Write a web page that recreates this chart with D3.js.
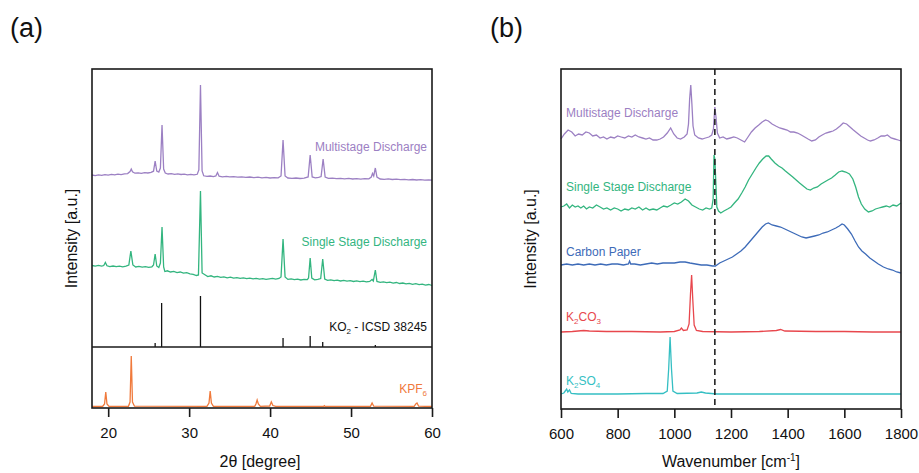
<!DOCTYPE html>
<html>
<head>
<meta charset="utf-8">
<script src="https://cdn.jsdelivr.net/npm/d3@7"></script>
<style>
  body { margin: 0; background: #fff; }
  svg { font-family: "Liberation Sans", Arial, sans-serif; }
</style>
</head>
<body>
<div id="chart"></div>
<script>
var width = 919;
var height = 473;

// ---- panel (a) : XRD, 2theta [degree] vs intensity (a.u.) ----
var xrdTicks = [20, 30, 40, 50, 60];

var multiXRD = [[18,172.0],[18.4,171.4],[18.8,172.1],[19.2,171.6],[19.6,172.4],[20.0,171.9],[20.4,172.6],[20.8,172.1],[21.2,172.9],[21.6,172.4],[22.0,173.1],[22.4,173.4],[22.7,175.5],[22.85,178.0],[23.0,175.2],[23.3,173.8],[23.7,174.1],[24.1,173.6],[24.5,174.3],[24.9,174.0],[25.3,174.6],[25.6,175.8],[25.8,186.0],[26.0,176.0],[26.25,175.0],[26.45,179],[26.65,222],[26.85,178],[27.05,174],[27.4,173.0],[27.8,173.4],[28.2,172.7],[28.6,173.1],[29.0,172.5],[29.4,172.8],[29.8,172.2],[30.2,172.6],[30.6,172.1],[31.0,172.7],[31.2,177],[31.4,262],[31.6,176],[31.8,171.2],[32.2,170.6],[32.6,171.0],[33.0,170.4],[33.3,171.0],[33.5,174.5],[33.7,170.8],[34.1,170.2],[34.6,170.6],[35.0,170.1],[35.5,170.4],[36.0,169.8],[36.5,170.2],[37.0,169.6],[37.5,170.0],[38.0,169.4],[38.5,169.8],[39.0,169.2],[39.5,169.6],[40.0,169.0],[40.5,169.4],[41.0,169.1],[41.35,171],[41.6,207],[41.85,171],[42.2,169.0],[42.7,168.6],[43.2,169.0],[43.7,168.5],[44.2,168.9],[44.7,170],[44.95,192],[45.2,170],[45.6,169.2],[46.0,169.6],[46.3,170.5],[46.55,188],[46.8,170],[47.2,168.6],[47.7,168.9],[48.2,168.3],[48.7,168.7],[49.2,168.2],[49.7,168.6],[50.2,168.0],[50.7,168.4],[51.2,167.9],[51.7,168.3],[52.2,168.2],[52.5,170],[52.65,173.5],[52.8,171],[53.0,179],[53.2,170],[53.6,168],[54.1,167.7],[54.6,168.1],[55.1,167.5],[55.6,167.9],[56.1,167.3],[56.6,167.7],[57.1,167.2],[57.6,167.5],[58.1,167.0],[58.6,167.4],[59.1,166.9],[59.6,167.2],[60,166.9]];

var singleXRD = [[18,81.5],[18.4,80.8],[18.8,81.6],[19.2,80.9],[19.45,81.5],[19.65,84.5],[19.85,81.2],[20.2,80.4],[20.6,81.0],[21.0,80.3],[21.4,80.9],[21.8,80.2],[22.2,80.8],[22.55,82],[22.8,96],[23.05,82],[23.4,80.0],[23.8,80.6],[24.2,79.8],[24.6,80.4],[25.0,79.6],[25.4,80.2],[25.6,82],[25.8,93],[26.0,81],[26.25,79.5],[26.45,84],[26.65,120],[26.85,80],[27.0,75.5],[27.3,76.2],[27.7,75.0],[28.1,75.6],[28.5,74.4],[28.9,75.0],[29.3,73.8],[29.7,74.3],[30.1,73.2],[30.5,72.6],[30.9,71.5],[31.15,72],[31.4,156],[31.6,74],[31.9,72.5],[32.3,70.4],[32.7,71.2],[33.1,70.0],[33.5,70.6],[33.9,69.6],[34.3,70.2],[34.7,69.2],[35.1,69.8],[35.5,68.9],[35.9,69.4],[36.3,68.6],[36.7,69.2],[37.1,68.3],[37.5,68.9],[37.9,68.1],[38.3,68.6],[38.7,67.9],[39.1,68.4],[39.5,67.7],[39.9,68.2],[40.3,68.6],[40.7,67.8],[41.1,68.5],[41.35,70],[41.6,108],[41.85,70],[42.2,67.6],[42.6,68.2],[43.0,67.3],[43.4,67.9],[43.8,67.0],[44.2,67.6],[44.6,67.4],[44.75,69],[44.95,89],[45.15,69],[45.5,67.2],[45.9,67.6],[46.25,68.5],[46.5,88],[46.75,68],[47.1,66.6],[47.5,67.2],[47.9,66.3],[48.3,66.9],[48.7,66.0],[49.1,66.6],[49.5,65.8],[49.9,66.3],[50.3,65.5],[50.7,66.1],[51.1,65.3],[51.5,65.9],[51.9,65.1],[52.3,65.6],[52.6,67.5],[52.75,66],[53.0,77],[53.2,65.5],[53.6,64.6],[54.0,65.2],[54.4,64.3],[54.8,64.9],[55.2,63.9],[55.6,64.5],[56.0,63.5],[56.4,64.0],[56.8,63.1],[57.2,63.7],[57.6,62.7],[58.0,63.3],[58.4,62.3],[58.8,62.9],[59.2,61.9],[59.6,62.5],[60,61.5]];

// KO2 reference pattern (ICSD 38245): positions and stick heights
var ko2Pos = [25.8, 26.6, 31.4, 41.6, 44.95, 46.5, 53.0];
var ko2Int = [4, 44, 51, 9, 11, 5, 2];

var kpf6XRD = [[18,1.5],[19.3,1.5],[19.55,4],[19.7,16],[19.85,4],[20.1,1.6],[22.5,1.7],[22.7,6],[22.85,52],[23.0,6],[23.25,1.8],[32.2,1.6],[32.45,5],[32.6,17],[32.75,5],[33.0,1.7],[38.1,1.6],[38.25,4],[38.4,8],[38.55,4],[38.8,1.6],[39.95,2],[40.15,6],[40.35,2.5],[40.7,1.6],[46.6,1.6],[46.7,2.3],[46.8,1.6],[52.4,1.6],[52.6,5],[52.8,1.8],[57.8,1.6],[58.0,4],[58.15,5],[58.35,1.8],[60,1.5]];

// ---- panel (b) : Raman, wavenumber [cm-1] vs intensity (a.u.) ----
var ramanTicks = [600, 800, 1000, 1200, 1400, 1600, 1800];
var markerWn = 1143;

var multiRaman = [[600,270],[612,275],[625,279],[638,277],[650,273],[662,275],[675,274],[688,277],[700,276],[712,273],[725,274],[738,271],[750,272],[762,270],[775,272],[788,271],[800,273],[812,272],[825,271],[838,273],[850,272],[862,274],[875,272],[888,271],[900,270],[912,271],[925,269],[938,269],[950,270],[962,272],[975,276],[987,281],[998,275],[1010,271],[1022,270],[1035,272],[1045,275],[1050,285],[1054,310],[1058,324],[1062,305],[1066,283],[1072,274],[1085,271],[1098,270],[1110,271],[1122,272],[1132,274],[1138,280],[1143,302],[1147,292],[1152,276],[1160,271],[1172,272],[1185,270],[1198,271],[1210,272],[1222,271],[1235,269],[1248,267],[1260,272],[1272,277],[1285,281],[1298,284],[1310,287],[1322,289],[1332,288],[1345,285],[1358,283],[1372,281],[1385,280],[1398,279],[1410,277],[1422,277],[1435,276],[1448,274],[1460,272],[1472,270],[1485,268],[1498,269],[1510,272],[1522,274],[1535,276],[1548,277],[1560,278],[1572,280],[1585,283],[1596,286],[1608,285],[1620,282],[1632,279],[1645,276],[1658,273],[1670,271],[1682,269],[1692,268],[1705,269],[1718,271],[1730,273],[1742,273],[1752,274],[1765,271],[1778,270],[1790,269],[1800,268]];

var singleRaman = [[600,202],[610,203],[620,205],[630,201],[640,204],[650,202],[660,203],[670,201],[680,203],[690,200],[700,202],[712,201],[725,204],[738,202],[750,200],[762,201],[775,199],[788,201],[800,200],[812,198],[825,200],[838,199],[850,201],[862,200],[875,202],[888,199],[900,201],[912,199],[925,200],[938,199],[950,201],[962,203],[975,202],[988,204],[1000,206],[1012,205],[1025,207],[1038,210],[1050,208],[1062,204],[1075,202],[1088,200],[1100,199],[1112,201],[1124,200],[1132,201],[1137,210],[1140,254],[1143,250],[1146,230],[1150,202],[1156,198],[1164,196],[1175,198],[1188,200],[1200,202],[1212,206],[1225,210],[1238,216],[1250,222],[1262,229],[1275,235],[1288,241],[1300,246],[1312,250],[1324,253],[1333,253],[1342,250],[1355,246],[1368,243],[1380,241],[1392,238],[1405,235],[1418,232],[1430,229],[1442,226],[1455,223],[1468,220],[1480,219],[1492,221],[1505,222],[1518,225],[1530,227],[1542,229],[1555,231],[1568,234],[1580,237],[1592,238],[1605,237],[1618,235],[1630,230],[1640,222],[1650,212],[1660,205],[1672,200],[1685,197],[1698,198],[1710,200],[1722,201],[1735,202],[1748,203],[1760,202],[1772,204],[1785,203],[1800,206]];

var carbonRaman = [[600,144],[620,145],[640,144],[660,145],[680,144],[700,145],[720,144],[740,145],[760,144],[780,145],[800,145],[820,144],[838,145],[842,148],[846,145],[860,145],[880,144],[900,145],[920,146],[940,145],[960,146],[980,146],[1000,146],[1020,147],[1038,147],[1055,146],[1075,145],[1095,144],[1115,144],[1135,143],[1145,143],[1160,146],[1175,148],[1190,150],[1205,152],[1220,155],[1235,158],[1250,162],[1265,167],[1280,172],[1295,177],[1310,182],[1322,185],[1332,186],[1345,184],[1360,183],[1375,182],[1390,180],[1405,178],[1420,176],[1435,174],[1450,172],[1465,171],[1480,172],[1495,173],[1510,174],[1525,176],[1540,177],[1555,179],[1570,181],[1582,183],[1592,185],[1600,184],[1612,180],[1625,175],[1638,168],[1650,162],[1662,158],[1675,155],[1690,151],[1705,148],[1720,145],[1738,142],[1755,140],[1770,139],[1785,137],[1800,136]];

var k2co3Raman = [[600,77],[640,77.5],[680,78.5],[700,78],[760,77.5],[850,77.5],[950,77],[1000,77.5],[1020,79],[1025,81],[1032,78.5],[1045,79],[1052,85],[1057,115],[1061,134],[1065,110],[1070,84],[1078,78.5],[1100,77.5],[1200,77],[1300,77.5],[1360,78.5],[1375,79.5],[1390,78],[1500,77.5],[1600,77.5],[1700,77],[1800,77]];

var k2so4Raman = [[600,15],[610,16],[615,18],[620,20],[624,17],[630,19],[636,15.5],[660,15],[800,15],[900,15.5],[960,15.5],[975,18],[980,40],[985,72],[990,40],[995,18],[1010,15.5],[1080,16],[1095,17],[1110,16],[1150,15],[1800,15]];

var purple = "#9c80c3", green = "#33b57f", blue = "#3d6bb8",
    red = "#e8474d", cyan = "#35bfc3", orange = "#f07a3c";

var svg = d3.select("#chart").append("svg")
  .attr("width", width)
  .attr("height", height);

// ---------- panel (a) ----------
var aLeft = 92, aRight = 432, aTop = 69, aMid = 347, aBottom = 408;

var xA = d3.scaleLinear().domain([18, 60]).range([aLeft, aRight]);
var yAtop = d3.scaleLinear().domain([0, 278]).range([aMid, aTop]);
var yAbot = d3.scaleLinear().domain([0, 61]).range([aBottom, aMid]);

var lineTop = d3.line().x(d => xA(d[0])).y(d => yAtop(d[1]));
var lineBot = d3.line().x(d => xA(d[0])).y(d => yAbot(d[1]));

var gA = svg.append("g").attr("id", "panel-a");

gA.append("path").datum(multiXRD).attr("d", lineTop)
  .attr("fill", "none").attr("stroke", purple).attr("stroke-width", 1.3);
gA.append("path").datum(singleXRD).attr("d", lineTop)
  .attr("fill", "none").attr("stroke", green).attr("stroke-width", 1.3);

gA.selectAll(".stick").data(ko2Pos).enter().append("line")
  .attr("class", "stick")
  .attr("x1", d => xA(d)).attr("x2", d => xA(d))
  .attr("y1", yAtop(0)).attr("y2", (d, i) => yAtop(ko2Int[i]))
  .attr("stroke", "#111").attr("stroke-width", 1.3);

gA.append("path").datum(kpf6XRD).attr("d", lineBot)
  .attr("fill", "none").attr("stroke", orange).attr("stroke-width", 1.3);

// frame
gA.append("rect").attr("x", aLeft).attr("y", aTop)
  .attr("width", aRight - aLeft).attr("height", aBottom - aTop)
  .attr("fill", "none").attr("stroke", "#1a1a1a").attr("stroke-width", 1.6);
gA.append("line").attr("x1", aLeft).attr("x2", aRight)
  .attr("y1", aMid).attr("y2", aMid)
  .attr("stroke", "#1a1a1a").attr("stroke-width", 1.6);

var xAxisA = d3.axisBottom(xA).tickValues(xrdTicks).tickFormat(d3.format("d"))
  .tickSize(9).tickPadding(10).tickSizeOuter(0);
gA.append("g").attr("transform", "translate(0," + aBottom + ")").call(xAxisA)
  .call(g => g.select(".domain").remove())
  .call(g => g.selectAll("line").attr("stroke", "#1a1a1a").attr("stroke-width", 1.6))
  .call(g => g.selectAll("text").attr("font-size", 15).attr("fill", "#111")
    .style("font-family", "Liberation Sans, Arial, sans-serif"));

// labels (a)
var labelA = [
  { text: "Multistage Discharge", y: 151, color: purple },
  { text: "Single Stage Discharge", y: 246, color: green }
];
gA.selectAll(".lab").data(labelA).enter().append("text")
  .attr("x", 427).attr("y", d => d.y).attr("text-anchor", "end")
  .attr("font-size", 12).attr("fill", d => d.color).text(d => d.text);

var ko2Lab = gA.append("text").attr("x", 427).attr("y", 331)
  .attr("text-anchor", "end").attr("font-size", 12).attr("fill", "#111");
ko2Lab.append("tspan").text("KO");
ko2Lab.append("tspan").attr("font-size", 8).attr("dy", 3).text("2");
ko2Lab.append("tspan").attr("dy", -3).text(" - ICSD 38245");

var kpfLab = gA.append("text").attr("x", 427).attr("y", 393)
  .attr("text-anchor", "end").attr("font-size", 12).attr("fill", orange);
kpfLab.append("tspan").text("KPF");
kpfLab.append("tspan").attr("font-size", 8).attr("dy", 3).text("6");

gA.append("text").attr("x", (aLeft + aRight) / 2 - 2).attr("y", 467)
  .attr("text-anchor", "middle").attr("font-size", 16).attr("fill", "#111")
  .text("2θ [degree]");
gA.append("text")
  .attr("transform", "translate(77," + ((aTop + aBottom) / 2) + ") rotate(-90)")
  .attr("text-anchor", "middle").attr("font-size", 16).attr("fill", "#111")
  .text("Intensity [a.u.]");
gA.append("text").attr("x", 10).attr("y", 37).attr("font-size", 27)
  .attr("fill", "#111").text("(a)");

// ---------- panel (b) ----------
var bLeft = 561, bRight = 901, bTop = 69, bBottom = 409;

var xB = d3.scaleLinear().domain([600, 1800]).range([bLeft, bRight]);
var yB = d3.scaleLinear().domain([0, 340]).range([bBottom, bTop]);
var lineB = d3.line().x(d => xB(d[0])).y(d => yB(d[1]));

var gB = svg.append("g").attr("id", "panel-b");

var ramanSeries = [
  { data: multiRaman, color: purple },
  { data: singleRaman, color: green },
  { data: carbonRaman, color: blue },
  { data: k2co3Raman, color: red },
  { data: k2so4Raman, color: cyan }
];
gB.selectAll(".raman").data(ramanSeries).enter().append("path")
  .attr("class", "raman")
  .attr("d", d => lineB(d.data))
  .attr("fill", "none").attr("stroke", d => d.color).attr("stroke-width", 1.3);

gB.append("line").attr("x1", xB(markerWn)).attr("x2", xB(markerWn))
  .attr("y1", bTop).attr("y2", bBottom)
  .attr("stroke", "#222").attr("stroke-width", 1.6).attr("stroke-dasharray", "6,4");

gB.append("rect").attr("x", bLeft).attr("y", bTop)
  .attr("width", bRight - bLeft).attr("height", bBottom - bTop)
  .attr("fill", "none").attr("stroke", "#1a1a1a").attr("stroke-width", 1.6);

var xAxisB = d3.axisBottom(xB).tickValues(ramanTicks).tickFormat(d3.format("d"))
  .tickSize(9).tickPadding(10).tickSizeOuter(0);
gB.append("g").attr("transform", "translate(0," + bBottom + ")").call(xAxisB)
  .call(g => g.select(".domain").remove())
  .call(g => g.selectAll("line").attr("stroke", "#1a1a1a").attr("stroke-width", 1.6))
  .call(g => g.selectAll("text").attr("font-size", 15).attr("fill", "#111")
    .style("font-family", "Liberation Sans, Arial, sans-serif"));

var labelB = [
  { text: "Multistage Discharge", y: 117, color: purple },
  { text: "Single Stage Discharge", y: 191, color: green },
  { text: "Carbon Paper", y: 256, color: blue }
];
gB.selectAll(".lab").data(labelB).enter().append("text")
  .attr("x", 566).attr("y", d => d.y)
  .attr("font-size", 12).attr("fill", d => d.color).text(d => d.text);

function chemLabel(parts, y, color) {
  var t = gB.append("text").attr("x", 566).attr("y", y)
    .attr("font-size", 12).attr("fill", color);
  parts.forEach(p => {
    if (p.sub) t.append("tspan").attr("font-size", 8).attr("dy", 3).text(p.s);
    else t.append("tspan").attr("dy", p.back ? -3 : 0).text(p.s);
  });
}
chemLabel([{ s: "K" }, { s: "2", sub: true }, { s: "CO", back: true }, { s: "3", sub: true }], 321, red);
chemLabel([{ s: "K" }, { s: "2", sub: true }, { s: "SO", back: true }, { s: "4", sub: true }], 385, cyan);

var wnLab = gB.append("text").attr("x", (bLeft + bRight) / 2).attr("y", 467)
  .attr("text-anchor", "middle").attr("font-size", 16).attr("fill", "#111");
wnLab.append("tspan").text("Wavenumber [cm");
wnLab.append("tspan").attr("font-size", 10).attr("dy", -6).text("-1");
wnLab.append("tspan").attr("dy", 6).text("]");

gB.append("text")
  .attr("transform", "translate(536," + ((bTop + bBottom) / 2) + ") rotate(-90)")
  .attr("text-anchor", "middle").attr("font-size", 16).attr("fill", "#111")
  .text("Intensity [a.u.]");
gB.append("text").attr("x", 490).attr("y", 37).attr("font-size", 27)
  .attr("fill", "#111").text("(b)");
</script>
</body>
</html>
